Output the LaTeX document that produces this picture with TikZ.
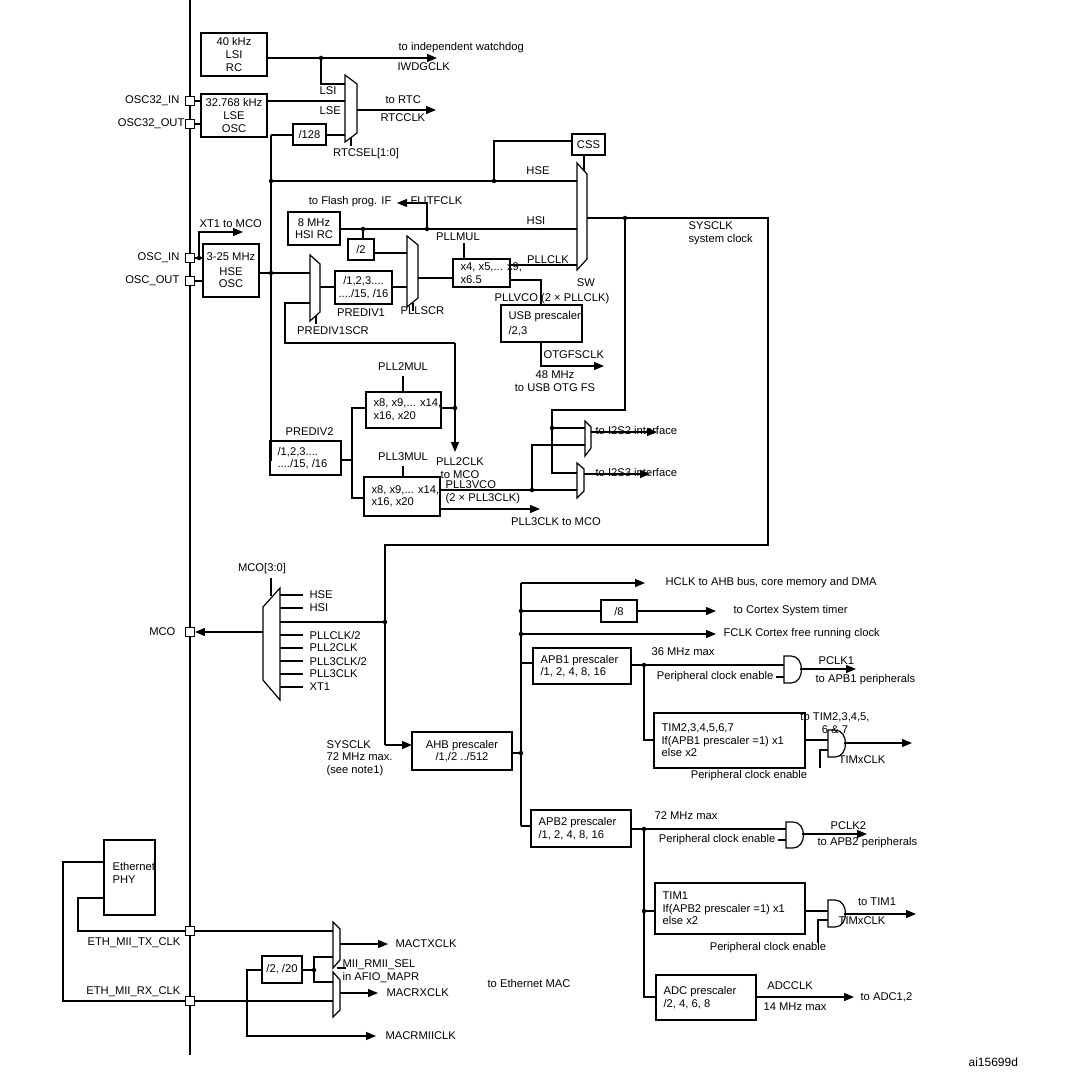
\documentclass[tikz,border=0pt]{standalone}
\usepackage{fontspec}
\setmainfont{Liberation Sans}
\usetikzlibrary{arrows.meta,calc}
\begin{document}
\begin{tikzpicture}[x=1pt,y=-1pt,line width=1.2pt,
  txt/.style={inner sep=0pt,font=\fontsize{11.2}{12.6}\selectfont},
  arr/.style={-{Triangle[length=10pt,width=8pt]}},
  dot/.style={circle,fill,inner sep=0pt,minimum size=4.5pt},
  pad/.style={draw,fill=white,line width=0.9pt,minimum size=9pt,inner sep=0pt}]
\useasboundingbox (0,0) rectangle (1066,1086);
\newcommand\bx[6]{\draw (#2,#3) rectangle (#4,#5); \node[txt,align=center] (#1) at ({(#2+#4)/2},{(#3+#5)/2}) {#6};}
\newcommand\bxl[6]{\draw (#2,#3) rectangle (#4,#5); \node[txt,align=left,anchor=west] (#1) at ({#2+7},{(#3+#5)/2}) {#6};}
\newcommand\muxr[6]{\draw[fill=white] (#1,#3) -- (#2,#5) -- (#2,#6) -- (#1,#4) -- cycle;}
\newcommand\andg[3]{\draw[fill=white] (#1,#2) -- (#1+7,#2) .. controls (#1+21,#2) and (#1+21,#3) .. (#1+7,#3) -- (#1,#3) -- cycle;}
\newcommand\dt[2]{\node[dot] at (#1,#2) {};}
% boundary
\draw (190,0) -- (190,1055);
% pads
\node[pad] (p1) at (190,101) {}; \node[txt,anchor=east] at (180,101) {OSC32\_IN};
\node[pad] (p2) at (190,124) {}; \node[txt,anchor=east] at (185,124) {OSC32\_OUT};
\node[pad] (p3) at (190,258) {}; \node[txt,anchor=east] at (180,258) {OSC\_IN};
\node[pad] (p4) at (190,281) {}; \node[txt,anchor=east] at (180,281) {OSC\_OUT};
\node[pad] (p5) at (190,632) {}; \node[txt,anchor=east] at (176,632) {MCO};
% LSI / LSE
\bx{lsi}{201}{33}{267}{76}{40 kHz\\LSI\\RC}
\bx{lse}{201}{94}{267}{137}{32.768 kHz\\LSE\\OSC}
\draw (p1) -- (201,101); \draw (p2) -- (201,124);
\draw[arr] (267,58) -- (437,58);
\dt{321}{58}
\draw (321,58) -- (321,84) -- (345,84);
\node[txt,anchor=west] at (398,48) {to independent watchdog};
\node[txt,anchor=west] at (397,67) {IWDGCLK};
\draw (267,101) -- (345,101);
\bx{d128}{293}{124}{326}{145}{/128}
\draw (271,135) -- (293,135); \draw (326,135) -- (345,135);
\muxr{345}{357}{75}{142}{84}{133}
\draw (351,138) -- (351,146);
\node[txt,anchor=west] at (319,91) {LSI};
\node[txt,anchor=west] at (319,111) {LSE};
\node[txt] at (366,154) {RTCSEL[1:0]};
\draw[arr] (357,110) -- (436,110);
\node[txt,anchor=west] at (385,100) {to RTC};
\node[txt,anchor=west] at (380,118) {RTCCLK};
% HSE
\bx{hse}{203}{244}{259}{297}{3-25 MHz\\[2pt]HSE\\OSC}
\draw (p3) -- (203,258); \draw (p4) -- (203,281);
\dt{199}{258}
\draw[arr] (199,258) -- (199,232) -- (243,232);
\node[txt,anchor=west] at (199,224) {XT1 to MCO};
\draw (271,135) -- (271,460) -- (270,460);
\dt{271}{181} \dt{271}{273}
\draw (259,273) -- (310,273);
% HSE line + CSS
\draw (271,181) -- (577,181);
\dt{494}{181}
\bx{css}{572}{134}{605}{155}{CSS}
\draw (494,181) -- (494,141) -- (572,141);
\draw (584,155) -- (584,172);
\node[txt] at (538,171) {HSE};
% HSI
\bx{hsi}{288}{212}{340}{245}{8 MHz\\HSI RC}
\draw (340,229) -- (577,229);
\node[txt] at (536,221) {HSI};
\dt{363}{229} \dt{427}{229}
\draw (363,229) -- (363,239);
\bx{d2}{348}{239}{374}{260}{/2}
\draw[arr] (427,229) -- (427,203) -- (397,203);
\node[txt,anchor=east] at (392,202) {to Flash prog. IF};
\node[txt,anchor=west] at (410,201) {FLITFCLK};
\draw (374,253) -- (407,253);
% PREDIV1SCR, PREDIV1, PLLSCR
\muxr{310}{320}{255}{321}{264}{312}
\draw (316,316) -- (316,324);
\node[txt] at (333,331) {PREDIV1SCR};
\draw (320,287) -- (335,287);
\bx{pd1}{335}{271}{392}{304}{/1,2,3....\\..../15, /16}
\node[txt] at (361,313) {PREDIV1};
\draw (392,287) -- (407,287);
\muxr{407}{418}{236}{307}{245}{298}
\draw (413,303) -- (413,311);
\node[txt,anchor=west] at (400,311) {PLLSCR};
\draw (418,278) -- (453,278);
\bxl{pllmul}{453}{259}{510}{287}{x4, x5,... x9,\\x6.5}
\node[txt] at (458,237) {PLLMUL};
\draw (464,243) -- (464,259);
\draw (510,265) -- (577,265);
\node[txt] at (548,260) {PLLCLK};
% SW mux
\muxr{577}{587}{163}{270}{174}{259}
\node[txt] at (586,283) {SW};
\draw (587,218) -- (768,218) -- (768,545) -- (385,545) -- (385,745);
\dt{625}{218}
\node[txt,anchor=west,align=left] at (688,233) {SYSCLK\\system clock};
% USB
\draw (510,280) -- (541,280) -- (541,305);
\node[txt,anchor=west] at (494,299) {PLLVCO (2 × PLLCLK)};
\bxl{usb}{501}{305}{582}{342}{USB prescaler\\[3pt]/2,3}
\draw[arr] (541,342) -- (541,366) -- (604,366);
\node[txt,anchor=west] at (543,355) {OTGFSCLK};
\node[txt,align=center] at (555,381) {48 MHz\\to USB OTG FS};
% PLL2CLK feedback
\draw (310,303) -- (285,303) -- (285,343) -- (455,343);
\draw[arr] (455,343) -- (455,452);
\node[txt,align=center] at (460,468) {PLL2CLK\\to MCO};
% PREDIV2, PLL2, PLL3
\bxl{pd2}{270}{441}{341}{475}{/1,2,3....\\..../15, /16}
\node[txt,anchor=west] at (285,432) {PREDIV2};
\draw (341,460) -- (352,460);
\draw (366,408) -- (352,408) -- (352,498) -- (364,498);
\bxl{pll2}{366}{392}{441}{428}{x8, x9,... x14,\\x16, x20}
\node[txt] at (403,367) {PLL2MUL};
\draw (403,376) -- (403,392);
\draw (441,408) -- (455,408); \dt{455}{408}
\bxl{pll3}{364}{477}{440}{516}{x8, x9,... x14,\\x16, x20}
\node[txt] at (403,457) {PLL3MUL};
\draw (403,466) -- (403,477);
\draw (440,490) -- (577,490);
\node[txt,anchor=west,align=left] at (445,492) {PLL3VCO\\(2 × PLL3CLK)};
\draw[arr] (440,509) -- (540,509);
\node[txt] at (556,522) {PLL3CLK to MCO};
% I2S
\draw (625,218) -- (625,410) -- (552,410) -- (552,473) -- (577,473);
\dt{552}{428} \dt{532}{490}
\draw (552,428) -- (585,428);
\draw (532,490) -- (532,445) -- (585,445);
\muxr{585}{591}{421}{456}{427}{448}
\muxr{577}{584}{463}{498}{469}{491}
\draw[arr] (591,432) -- (657,432);
\draw[arr] (584,474) -- (650,474);
\node[txt,anchor=west] at (595,430) {to I2S2 interface};
\node[txt,anchor=west] at (595,472) {to I2S3 interface};
% MCO mux
\muxr{263}{280}{607}{680}{588}{700}
\draw (271,578) -- (271,596);
\node[txt] at (262,569) {MCO[3:0]};
\foreach \yy/\tt in {595/{HSE},608/{HSI},635/{PLLCLK/2},648/{PLL2CLK},661/{PLL3CLK/2},674/{PLL3CLK},687/{XT1}}
  {\draw (280,\yy) -- (303,\yy); \node[txt,anchor=west] at (309,\yy) {\tt};}
\draw (280,622) -- (385,622); \dt{385}{622}
\draw[arr] (263,632) -- (p5);
% AHB
\draw[arr] (385,745) -- (412,745);
\node[txt,anchor=west,align=left] at (326,758) {SYSCLK\\72 MHz max.\\(see note1)};
\bx{ahb}{412}{732}{512}{770}{AHB prescaler\\/1,/2 ../512}
\draw (512,753) -- (521,753); \dt{521}{753}
\draw (521,826) -- (521,583);
\draw[arr] (521,583) -- (645,583);
\node[txt,anchor=west] at (665,583) {HCLK to AHB bus, core memory and DMA};
\dt{521}{611} \draw (521,611) -- (601,611);
\bx{d8}{601}{600}{637}{622}{/8}
\draw[arr] (637,611) -- (716,611);
\node[txt,anchor=west] at (733,611) {to Cortex System timer};
\dt{521}{634} \draw[arr] (521,634) -- (716,634);
\node[txt,anchor=west] at (723,634) {FCLK Cortex free running clock};
% APB1
\draw (521,663) -- (533,663);
\bxl{apb1}{533}{648}{631}{684}{APB1 prescaler\\/1, 2, 4, 8, 16}
\draw (631,665) -- (784,665); \dt{644}{665}
\node[txt] at (683,652) {36 MHz max};
\andg{784}{656}{683}
\draw (776,677) -- (784,677);
\node[txt,anchor=east] at (774,677) {Peripheral clock enable};
\draw[arr] (800,669) -- (856,669);
\node[txt,anchor=west] at (818,661) {PCLK1};
\node[txt,anchor=west] at (815,680) {to APB1 peripherals};
\draw (644,665) -- (644,740) -- (654,740);
\bxl{tim2}{654}{713}{805}{768}{TIM2,3,4,5,6,7\\If(APB1 prescaler =1) x1\\else x2}
\draw (805,740) -- (828,740);
\andg{828}{730}{757}
\draw (820,768) -- (820,750) -- (828,750);
\draw[arr] (844,743) -- (912,743);
\node[txt,align=center] at (835,723) {to TIM2,3,4,5,\\6 \& 7};
\node[txt] at (862,760) {TIMxCLK};
\node[txt] at (749,776) {Peripheral clock enable};
% APB2
\draw (521,826) -- (531,826);
\bxl{apb2}{531}{810}{631}{847}{APB2 prescaler\\/1, 2, 4, 8, 16}
\draw (631,829) -- (786,829); \dt{644}{829}
\node[txt] at (686,816) {72 MHz max};
\andg{786}{822}{848}
\draw (778,840) -- (786,840);
\node[txt,anchor=east] at (776,840) {Peripheral clock enable};
\draw[arr] (802,834) -- (867,834);
\node[txt,anchor=west] at (830,826) {PCLK2};
\node[txt,anchor=west] at (817,843) {to APB2 peripherals};
\draw (644,829) -- (644,997) -- (656,997);
\dt{644}{911} \draw (644,911) -- (655,911);
\bxl{tim1}{655}{883}{805}{934}{TIM1\\If(APB2 prescaler =1) x1\\else x2}
\draw (805,911) -- (828,911);
\andg{828}{900}{927}
\draw (818,943) -- (818,920) -- (828,920);
\draw[arr] (844,914) -- (916,914);
\node[txt] at (877,902) {to TIM1};
\node[txt] at (862,921) {TIMxCLK};
\node[txt] at (768,948) {Peripheral clock enable};
\bxl{adc}{656}{975}{756}{1020}{ADC prescaler\\/2, 4, 6, 8}
\draw[arr] (756,997) -- (854,997);
\node[txt] at (790,986) {ADCCLK};
\node[txt] at (795,1007) {14 MHz max};
\node[txt,anchor=west] at (860,997) {to ADC1,2};
% Ethernet
\draw (104,840) rectangle (155,915);
\node[txt,anchor=north west,align=left] (phy) at (112,862) {Ethernet\\PHY};
\node[pad] (p6) at (190,931) {};
\node[pad] (p7) at (190,1001) {};
\node[txt,anchor=east] at (181,943) {ETH\_MII\_TX\_CLK};
\node[txt,anchor=east] at (181,992) {ETH\_MII\_RX\_CLK};
\draw (104,862) -- (63,862) -- (63,1001) -- (p7);
\draw (104,898) -- (78,898) -- (78,931) -- (p6);
\draw (p6) -- (333,931);
\draw (p7) -- (333,1001);
\muxr{333}{340}{922}{968}{929}{960}
\muxr{333}{340}{972}{1017}{980}{1010}
\draw[arr] (340,944) -- (388,944);
\node[txt,anchor=west] at (395,944) {MACTXCLK};
\draw[arr] (340,993) -- (378,993);
\node[txt,anchor=west] at (386,993) {MACRXCLK};
\bx{d220}{262}{956}{302}{983}{/2, /20}
\draw (302,970) -- (314,970); \dt{314}{970}
\draw (314,970) -- (314,957) -- (333,957);
\draw (314,970) -- (314,982) -- (333,982);
\draw (337,968) -- (346,968);
\node[txt,anchor=west,align=left] at (342,971) {MII\_RMII\_SEL\\in AFIO\_MAPR};
\draw[arr] (262,970) -- (247,970) -- (247,1036) -- (376,1036);
\node[txt,anchor=west] at (385,1036) {MACRMIICLK};
\node[txt,anchor=west] at (487,983) {to Ethernet MAC};
\node[txt,anchor=west,font=\fontsize{12}{14}\selectfont] at (968,1062) {ai15699d};
\end{tikzpicture}
\end{document}
